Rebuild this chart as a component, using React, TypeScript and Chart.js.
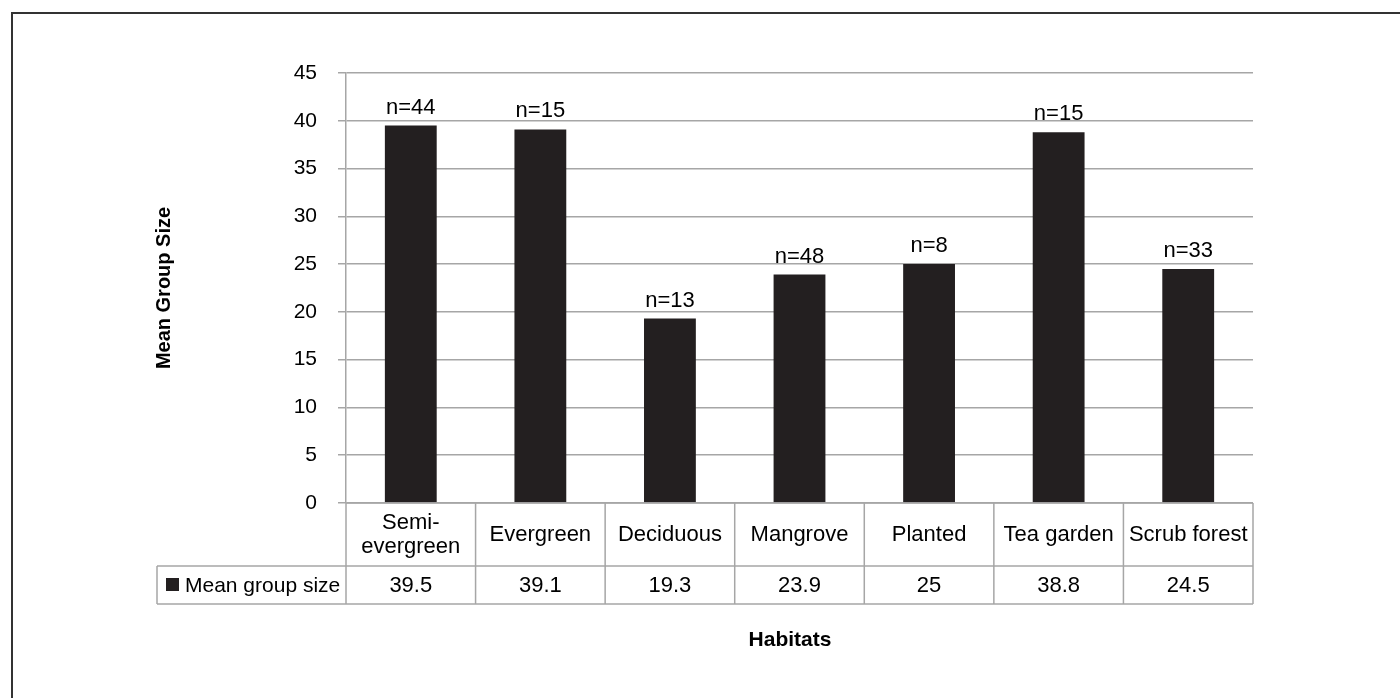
import React, { useEffect, useRef } from "react";
import { Chart, registerables } from "chart.js";

Chart.register(...registerables);

const categories: string[][] = [
  ["Semi-", "evergreen"],
  ["Evergreen"],
  ["Deciduous"],
  ["Mangrove"],
  ["Planted"],
  ["Tea garden"],
  ["Scrub forest"],
];
const meanGroupSize = [39.5, 39.1, 19.3, 23.9, 25, 38.8, 24.5];
const valueLabels = ["39.5", "39.1", "19.3", "23.9", "25", "38.8", "24.5"];
const sampleSizes = ["n=44", "n=15", "n=13", "n=48", "n=8", "n=15", "n=33"];
const seriesName = "Mean group size";
const yTitle = "Mean Group Size";
const xTitle = "Habitats";

const FONT = "'Liberation Sans', Arial, Helvetica, sans-serif";
const GRID = "#a6a6a6";
const BAR = "#231f20";

const framePlugin = {
  id: "frame",
  beforeDraw(chart: any) {
    const ctx = chart.ctx;
    ctx.save();
    ctx.fillStyle = "#ffffff";
    ctx.fillRect(0, 0, chart.width, chart.height);
    ctx.strokeStyle = "#333333";
    ctx.lineWidth = 2;
    ctx.strokeRect(12, 13, chart.width + 20, chart.height + 20);
    ctx.restore();
  },
};

const labelsPlugin = {
  id: "nlabels",
  afterDatasetsDraw(chart: any) {
    const ctx = chart.ctx;
    const meta = chart.getDatasetMeta(0);
    ctx.save();
    ctx.fillStyle = "#000";
    ctx.font = `22px ${FONT}`;
    ctx.textAlign = "center";
    ctx.textBaseline = "alphabetic";
    meta.data.forEach((bar: any, i: number) => {
      ctx.fillText(sampleSizes[i], bar.x, bar.y - 12);
    });
    ctx.restore();
  },
};

const tablePlugin = {
  id: "dataTable",
  afterDraw(chart: any) {
    const ctx = chart.ctx;
    const area = chart.chartArea;
    const xs = chart.scales.x;
    const n = categories.length;
    const w = (area.right - area.left) / n;
    const top = area.bottom;
    const mid = top + 63;
    const bottom = top + 101;
    const legendLeft = 157;
    ctx.save();
    ctx.strokeStyle = GRID;
    ctx.lineWidth = 1.5;
    ctx.beginPath();
    ctx.moveTo(area.left, top);
    ctx.lineTo(area.right, top);
    ctx.moveTo(legendLeft, mid);
    ctx.lineTo(area.right, mid);
    ctx.moveTo(legendLeft, bottom);
    ctx.lineTo(area.right, bottom);
    for (let i = 0; i <= n; i++) {
      const x = area.left + i * w;
      ctx.moveTo(x, top);
      ctx.lineTo(x, bottom);
    }
    ctx.moveTo(legendLeft, mid);
    ctx.lineTo(legendLeft, bottom);
    ctx.stroke();

    ctx.fillStyle = "#000";
    ctx.textAlign = "center";
    ctx.textBaseline = "middle";
    ctx.font = `22px ${FONT}`;
    const rowC = top + 32;
    categories.forEach((lines, i) => {
      const cx = xs.getPixelForValue(i);
      if (lines.length === 1) {
        ctx.fillText(lines[0], cx, rowC);
      } else {
        ctx.fillText(lines[0], cx, rowC - 12);
        ctx.fillText(lines[1], cx, rowC + 12);
      }
      ctx.fillText(valueLabels[i], cx, (mid + bottom) / 2 + 1);
    });

    ctx.fillStyle = BAR;
    ctx.fillRect(166, mid + 12, 13, 13);
    ctx.fillStyle = "#000";
    ctx.textAlign = "left";
    ctx.font = `21px ${FONT}`;
    ctx.fillText(seriesName, 185, (mid + bottom) / 2 + 1);

    ctx.font = `bold 21px ${FONT}`;
    ctx.textAlign = "center";
    ctx.textBaseline = "alphabetic";
    ctx.fillText(xTitle, 790, 646);
    ctx.restore();
  },
};

export default function App() {
  const ref = useRef<HTMLCanvasElement | null>(null);
  useEffect(() => {
    document.body.style.margin = "0";
    const canvas = ref.current;
    if (!canvas) return;
    const chart = new Chart(canvas, {
      type: "bar",
      data: {
        labels: categories.map((c) => c.join(" ")),
        datasets: [
          {
            label: seriesName,
            data: meanGroupSize,
            backgroundColor: BAR,
            borderWidth: 0,
            categoryPercentage: 1,
            barPercentage: 0.4,
          },
        ],
      },
      options: {
        animation: false,
        responsive: false,
        devicePixelRatio: 1,
        layout: { padding: { left: 0, top: 73, right: 147, bottom: 195 } },
        plugins: {
          legend: { display: false },
          tooltip: { enabled: false },
          title: { display: false },
        },
        scales: {
          x: {
            display: false,
            grid: { display: false },
          },
          y: {
            min: 0,
            max: 45,
            ticks: {
              stepSize: 5,
              color: "#000",
              padding: 21,
              font: { family: FONT, size: 21 },
            },
            grid: {
              color: GRID,
              lineWidth: 1.5,
              drawTicks: true,
              tickLength: 8,
            },
            border: { display: true, color: GRID, width: 1.5 },
            title: {
              display: true,
              text: yTitle,
              color: "#000",
              font: { family: FONT, size: 20, weight: "bold" },
              padding: { top: 152, bottom: 0 },
            },
            afterFit(scale: any) {
              scale.width = 346;
            },
          },
        },
      },
      plugins: [framePlugin, labelsPlugin, tablePlugin],
    });
    return () => chart.destroy();
  }, []);
  return (
    <div style={{ width: 1400, height: 698 }}>
      <canvas ref={ref} width={1400} height={698} style={{ display: "block", width: 1400, height: 698 }} />
    </div>
  );
}
